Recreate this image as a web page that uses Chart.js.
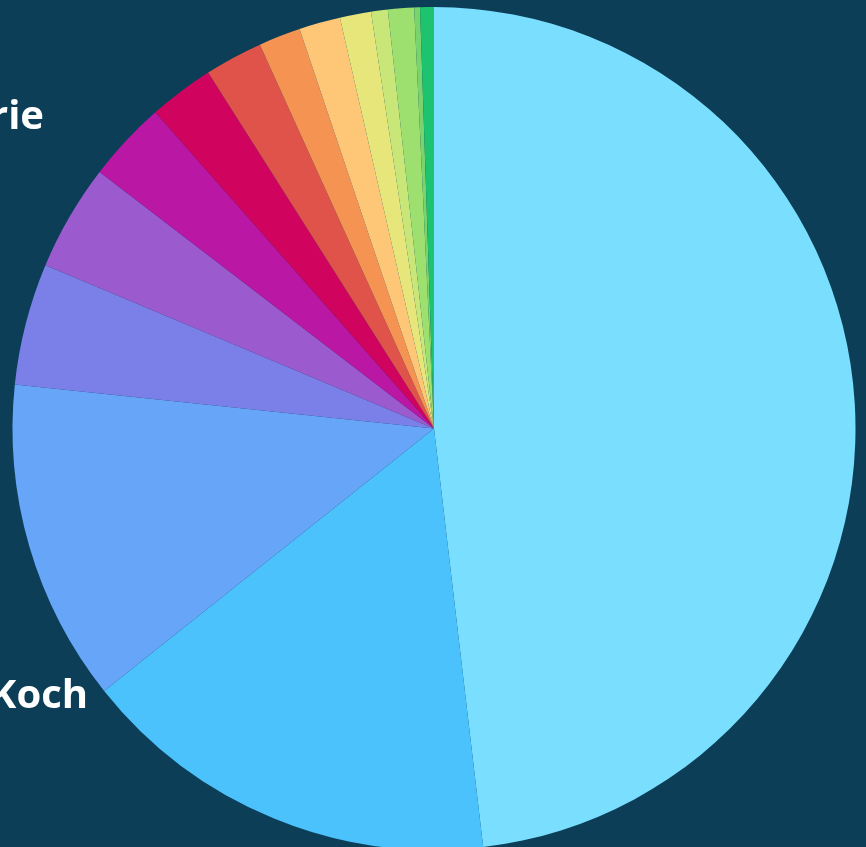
<!DOCTYPE html>
<html>
<head>
<meta charset="utf-8">
<script src="https://cdn.jsdelivr.net/npm/chart.js@4"></script>
<style>
  html, body { margin: 0; padding: 0; background: #0c3e57; overflow: hidden; }
  #wrap { position: relative; width: 866px; height: 852px; }
</style>
</head>
<body>
<div id="wrap"><canvas id="c"></canvas></div>
<script>
// Slice values (in degrees of the full circle)
const categories = ['S1','S2','S3','S4','S5','S6','S7','S8','S9','S10','S11','S12','S13','S14','S15'];
const values = [173.3, 58.2, 44.5, 16.8, 14.7, 11.1, 9.0, 8.0, 5.8, 5.7, 4.3, 2.3, 3.6, 0.8, 1.9];
const sliceColors = ['#7adfff','#4bc2fc','#66a5f8','#7b80e8','#9b5bcf','#bb17a5','#d0045f','#e0534a',
                     '#f59452','#fdc777','#e6e67a','#c9e778','#9de06f','#7ad46e','#1ec36f'];
// Visible (clipped) outer labels
const outerLabels = ['rie', 'Koch'];

const outerLabelPlugin = {
  id: 'outerLabels',
  afterDraw(chart) {
    const arc = chart.getDatasetMeta(0).data[0];
    if (!arc) return;
    const { x: cx, y: cy } = arc.getProps(['x', 'y'], true);
    const ctx = chart.ctx;
    ctx.save();
    ctx.fillStyle = '#ffffff';
    ctx.font = 'bold 40px "Open Sans"';
    ctx.textAlign = 'right';
    ctx.textBaseline = 'alphabetic';
    const offs = [[-390, -300], [-346, 279]];
    outerLabels.forEach((t, i) => {
      ctx.fillText(t, cx + offs[i][0], cy + offs[i][1]);
    });
    ctx.restore();
  }
};

new Chart(document.getElementById('c'), {
  type: 'pie',
  data: {
    labels: categories,
    datasets: [{
      data: values,
      backgroundColor: sliceColors,
      borderWidth: 0
    }]
  },
  options: {
    responsive: true,
    maintainAspectRatio: false,
    animation: false,
    layout: { padding: { top: 7, bottom: 2, left: 2, right: 0 } },
    plugins: {
      legend: { display: false },
      tooltip: { enabled: false }
    }
  },
  plugins: [outerLabelPlugin]
});
</script>
</body>
</html>
